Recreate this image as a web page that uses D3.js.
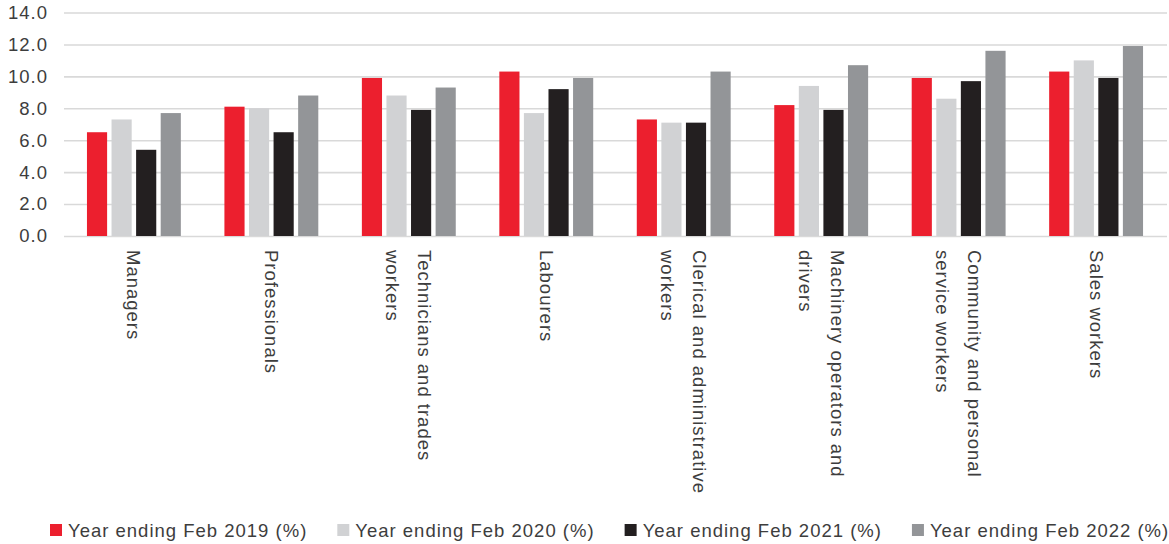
<!DOCTYPE html>
<html>
<head>
<meta charset="utf-8">
<script src="https://cdn.jsdelivr.net/npm/d3@7"></script>
<style>
  html, body { margin: 0; padding: 0; background: #fff; }
  svg text { font-family: "Liberation Sans", Arial, Helvetica, sans-serif; fill: #3d3d3d; letter-spacing: 1px; }
</style>
</head>
<body>
<svg id="chart" width="1169" height="544"></svg>
<script>
// Occupation groups (label lines as they wrap under the axis)
const categories = [
  ["Managers"],
  ["Professionals"],
  ["Technicians and trades", "workers"],
  ["Labourers"],
  ["Clerical and administrative", "workers"],
  ["Machinery operators and", "drivers"],
  ["Community and personal", "service workers"],
  ["Sales workers"]
];

const seriesNames = [
  "Year ending Feb 2019 (%)",
  "Year ending Feb 2020 (%)",
  "Year ending Feb 2021 (%)",
  "Year ending Feb 2022 (%)"
];

const feb2019 = [6.5, 8.1, 9.9, 10.3, 7.3, 8.2, 9.9, 10.3];
const feb2020 = [7.3, 8.0, 8.8, 7.7, 7.1, 9.4, 8.6, 11.0];
const feb2021 = [5.4, 6.5, 7.9, 9.2, 7.1, 7.9, 9.7, 9.9];
const feb2022 = [7.7, 8.8, 9.3, 9.9, 10.3, 10.7, 11.6, 11.9];

const yTicks = [0, 2, 4, 6, 8, 10, 12, 14];

const colors = ["#ec1f2e", "#d1d2d4", "#231f20", "#939598"];

const seriesValues = [feb2019, feb2020, feb2021, feb2022];

const fontSize = "18.5px";

const svg = d3.select("#chart");

const plot = { left: 64, right: 1166, top: 12.5, bottom: 236 };

const x0 = d3.scaleBand()
  .domain(d3.range(categories.length))
  .range([plot.left, plot.right])
  .paddingInner(0.317)
  .paddingOuter(0.167);

const x1 = d3.scaleBand()
  .domain(d3.range(seriesNames.length))
  .range([0, x0.bandwidth()])
  .paddingInner(0.18);

const y = d3.scaleLinear()
  .domain([0, 14])
  .range([plot.bottom, plot.top]);

// Horizontal gridlines and y tick labels
const yAxis = d3.axisLeft(y)
  .tickValues(yTicks)
  .tickFormat(d3.format(".1f"))
  .tickSize(-(plot.right + 1 - plot.left))
  .tickPadding(16);

const gy = svg.append("g")
  .attr("transform", `translate(${plot.left},0)`)
  .call(yAxis);
gy.select(".domain").remove();
gy.selectAll(".tick line")
  .attr("stroke", "#d9d9d9")
  .attr("stroke-width", 1.6);
gy.selectAll(".tick text")
  .style("font-size", fontSize)
  .attr("fill", "#3d3d3d");

// Bars
const groups = svg.append("g")
  .selectAll("g")
  .data(categories.map((c, i) => i))
  .join("g")
  .attr("transform", i => `translate(${x0(i)},0)`);

groups.selectAll("rect")
  .data(i => seriesValues.map((vals, s) => ({ s, v: vals[i] })))
  .join("rect")
  .attr("x", d => x1(d.s))
  .attr("width", x1.bandwidth())
  .attr("y", d => y(d.v))
  .attr("height", d => y(0) - y(d.v))
  .attr("fill", d => colors[d.s]);

// Category labels, rotated to read downwards
const lineGap = 32;
const labels = svg.append("g")
  .selectAll("g")
  .data(categories)
  .join("g")
  .attr("transform", (c, i) => `translate(${x0(i) + x0.bandwidth() / 2},250) rotate(90)`);

labels.each(function(lines) {
  const t = d3.select(this).append("text")
    .style("font-size", fontSize)
    .attr("text-anchor", "start");
  lines.forEach((line, k) => {
    t.append("tspan")
      .attr("x", 0)
      .attr("y", (k - (lines.length - 1) / 2) * lineGap)
      .attr("dy", "0.35em")
      .text(line);
  });
});

// Legend
const legend = svg.append("g");
let lx = 50;
seriesNames.forEach((name, s) => {
  legend.append("rect")
    .attr("x", lx)
    .attr("y", 524)
    .attr("width", 12)
    .attr("height", 12)
    .attr("fill", colors[s]);
  const txt = legend.append("text")
    .attr("x", lx + 18)
    .attr("y", 537)
    .style("font-size", fontSize)
    .text(name);
  lx += 18 + txt.node().getComputedTextLength() + 30;
});
</script>
</body>
</html>
